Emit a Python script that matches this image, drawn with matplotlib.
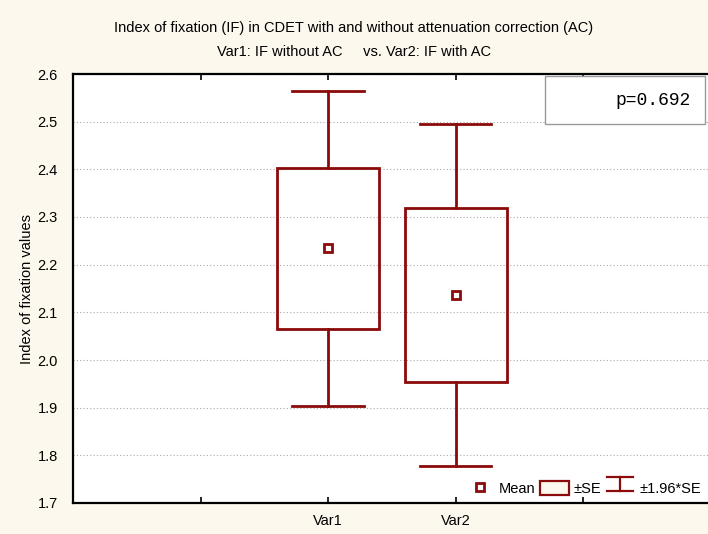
import matplotlib.pyplot as plt
from matplotlib.patches import Rectangle
from matplotlib.lines import Line2D
from matplotlib.legend_handler import HandlerBase
import numpy as np

variables = ['Var1', 'Var2']
means = [2.234, 2.136]
se = [0.1685, 0.183]
p_value = 0.692

positions = [2, 3]
dark_red = '#8B0A0A'
bg = '#FDF8EE'

plt.rcParams['font.family'] = ['Liberation Sans', 'DejaVu Sans']


class WhiskerHandler(HandlerBase):
    # legend symbol: top bar, stem, bottom bar
    def create_artists(self, legend, orig_handle, xd, yd, width, height, fontsize, trans):
        cx = xd + width / 2
        top = Line2D([xd + 1, xd + width - 1], [yd + height, yd + height], color=dark_red, lw=1.6)
        stem = Line2D([cx, cx], [yd, yd + height], color=dark_red, lw=1.6)
        bot = Line2D([xd + 1, xd + width - 1], [yd, yd], color=dark_red, lw=1.6)
        for a in (top, stem, bot):
            a.set_transform(trans)
        return [top, stem, bot]


fig = plt.figure(figsize=(7.08, 5.34), dpi=100, facecolor=bg)
ax = fig.add_axes([73 / 708, 31 / 534, 635 / 708, 429 / 534])
ax.set_facecolor('white')

box_w = 0.8
for pos, m, s in zip(positions, means, se):
    lo, hi = m - s, m + s
    wlo, whi = m - 1.96 * s, m + 1.96 * s
    ax.add_patch(Rectangle((pos - box_w / 2, lo), box_w, hi - lo, fill=False,
                           edgecolor=dark_red, lw=2, zorder=3))
    ax.plot([pos, pos], [hi, whi], color=dark_red, lw=2, zorder=3)
    ax.plot([pos, pos], [wlo, lo], color=dark_red, lw=2, zorder=3)
    ax.plot([pos - box_w * 0.35, pos + box_w * 0.35], [whi, whi], color=dark_red, lw=2, zorder=3)
    ax.plot([pos - box_w * 0.35, pos + box_w * 0.35], [wlo, wlo], color=dark_red, lw=2, zorder=3)
    ax.plot(pos, m, marker='s', ms=6, mfc='white', mec=dark_red, mew=2, zorder=4)

ax.set_xlim(0, 4.98)
ax.set_ylim(1.7, 2.6)
ax.set_xticks([1, 2, 3, 4])
ax.set_xticklabels(['', 'Var1', 'Var2', ''])
ax.set_yticks(np.arange(1.7, 2.61, 0.1))
ax.set_yticklabels(['%.1f' % v for v in np.arange(1.7, 2.61, 0.1)])
ax.tick_params(axis='both', labelsize=10.5, length=4, width=1.2, direction='in', top=True)
ax.tick_params(axis='x', pad=8)
ax.tick_params(axis='y', left=False, pad=11)
ax.grid(axis='y', linestyle=(0, (1, 2)), color='#AAAAAA', lw=0.8)
for sp in ['left', 'bottom', 'top']:
    ax.spines[sp].set_linewidth(1.6)
ax.spines['right'].set_linewidth(0.6)
ax.spines['right'].set_color('#888888')

ax.set_ylabel('Index of fixation values', fontsize=10.5, labelpad=2.5)

fig.text(0.5, 1 - 28 / 534, 'Index of fixation (IF) in CDET with and without attenuation correction (AC)',
         ha='center', va='center', fontsize=10.5)
fig.text(0.5, 1 - 52 / 534, 'Var1: IF without AC     vs. Var2: IF with AC',
         ha='center', va='center', fontsize=10.5)

# p-value box
ax.add_patch(Rectangle((0.743, 0.883), 0.252, 0.112, transform=ax.transAxes, facecolor='white',
                       edgecolor='#999999', lw=1, zorder=5))
ax.text(0.972, 0.939, 'p=%.3f' % p_value, transform=ax.transAxes, ha='right', va='center',
        fontsize=13, family='Liberation Mono', zorder=6)

mean_h = Line2D([], [], marker='s', ls='none', ms=6, mfc='white', mec=dark_red, mew=2)
se_h = Rectangle((0, 0), 1, 1, facecolor=bg, edgecolor=dark_red, lw=1.6)
wh_h = object()
leg = ax.legend([mean_h, se_h, wh_h], ['Mean', '\u00b1SE', '\u00b11.96*SE'],
                handler_map={object: WhiskerHandler()}, loc='lower right', ncol=3,
                frameon=False, fontsize=10.5, handlelength=2.0, handleheight=1.1,
                handletextpad=0.3, columnspacing=0.3, borderaxespad=0.1)
leg.set_zorder(5)

fig.savefig('out.png', dpi=100, facecolor=bg)
